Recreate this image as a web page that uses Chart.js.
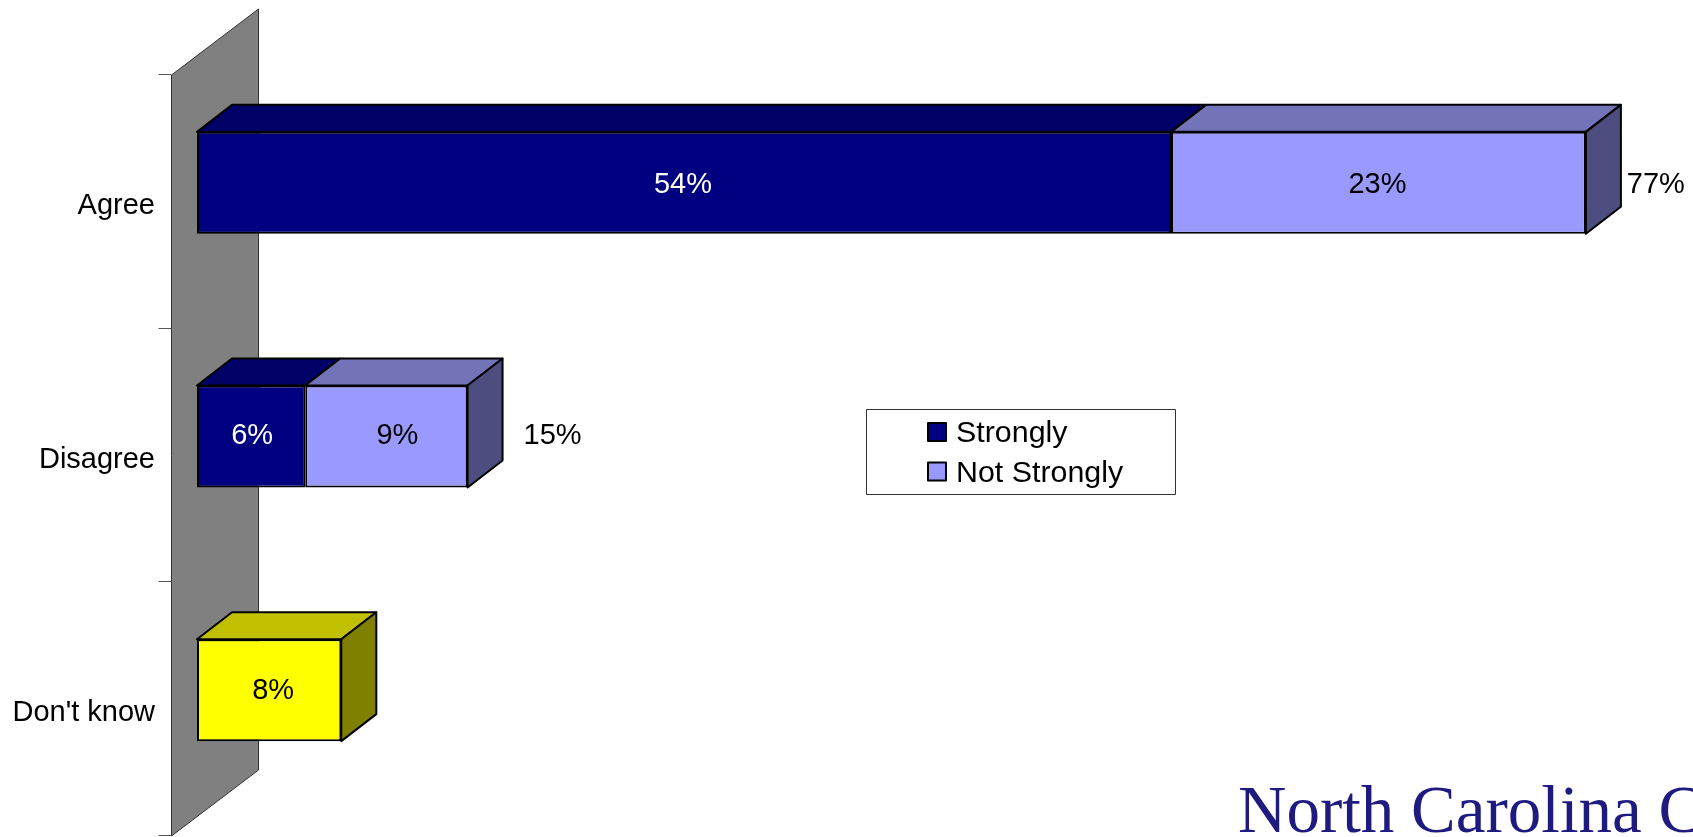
<!DOCTYPE html>
<html>
<head>
<meta charset="utf-8">
<title>Agree / Disagree</title>
<script src="https://cdn.jsdelivr.net/npm/chart.js@4/dist/chart.umd.min.js"></script>
<style>
  html, body { margin: 0; padding: 0; background: #fff; overflow: hidden; }
  canvas { display: block; }
</style>
</head>
<body>
<canvas id="chart" width="1693" height="837"></canvas>
<script>
const categories = ["Agree", "Disagree", "Don't know"];

const stronglyValues = [54, 6, null];
const notStronglyValues = [23, 9, null];
const dontKnowValues = [null, null, 8];

const logoText = "North Carolina C";

const FONT = "'Liberation Sans', Arial, sans-serif";
const WALL = { left: 25.5, dx: 87, dy: 66, shift: 19 };
const DEPTH = { x: 35, y: 27 };

const faces = [
  { front: "#000080", top: "#000066", side: "#000040", text: "#fff", nudge: [-1, 1, 0] },
  { front: "#9999ff", top: "#7373b9", side: "#4d4d80", text: "#000", nudge: [-1, 11, 0] },
  { front: "#ffff00", top: "#c0c000", side: "#808000", text: "#000", nudge: [0, 0, 4] },
];
const totalGap = [70, 85];
const labelDrop = [2, -1, 1];

const poly = (ctx, pts, fill, stroke, width) => {
  ctx.beginPath();
  pts.forEach((p, i) => (i ? ctx.lineTo(p[0], p[1]) : ctx.moveTo(p[0], p[1])));
  ctx.closePath();
  ctx.fillStyle = fill;
  ctx.fill();
  ctx.strokeStyle = stroke;
  ctx.lineWidth = width;
  ctx.lineJoin = "round";
  ctx.stroke();
};

const box3d = {
  id: "box3d",
  beforeDatasetsDraw(chart) {
    const { ctx, chartArea, scales } = chart;
    const x0 = chartArea.left - WALL.left;
    const top = chartArea.top + WALL.shift;
    const bottom = chartArea.bottom + WALL.shift;
    poly(ctx, [
      [x0, top],
      [x0 + WALL.dx, top - WALL.dy],
      [x0 + WALL.dx, bottom - WALL.dy],
      [x0, bottom],
    ], "#808080", "#333", 1);

    // tick marks sit between the categories
    const band = (scales.y.bottom - scales.y.top) / categories.length;
    ctx.strokeStyle = "#555";
    ctx.lineWidth = 1;
    for (let i = 0; i <= categories.length; i++) {
      const y = Math.round(top + band * i) - 0.5;
      ctx.beginPath();
      ctx.moveTo(x0 - 13, y);
      ctx.lineTo(x0, y);
      ctx.stroke();
    }

    // top and side faces of the boxes
    chart.data.datasets.forEach((ds, d) => {
      chart.getDatasetMeta(d).data.forEach((bar, i) => {
        if (ds.data[i] == null) return;
        const t = bar.y - bar.height / 2;
        const b = bar.y + bar.height / 2;
        poly(ctx, [
          [bar.base, t],
          [bar.base + DEPTH.x, t - DEPTH.y],
          [bar.x + DEPTH.x, t - DEPTH.y],
          [bar.x, t],
        ], faces[d].top, "#000", 2);
        if (d === 0) return; // the first series always has another one on its end
        poly(ctx, [
          [bar.x, t],
          [bar.x + DEPTH.x, t - DEPTH.y],
          [bar.x + DEPTH.x, b - DEPTH.y],
          [bar.x, b],
        ], faces[d].side, "#000", 2);
      });
    });
  },
  afterDatasetsDraw(chart) {
    const { ctx } = chart;
    ctx.save();
    ctx.textAlign = "center";
    ctx.textBaseline = "middle";
    ctx.font = "29px " + FONT;
    chart.data.datasets.forEach((ds, d) => {
      chart.getDatasetMeta(d).data.forEach((bar, i) => {
        if (ds.data[i] == null) return;
        const y = bar.y + labelDrop[i];
        ctx.fillStyle = faces[d].text;
        ctx.fillText(ds.data[i] + "%", (bar.x + bar.base) / 2 + faces[d].nudge[i], y);
        if (d === 1) {
          ctx.fillStyle = "#000";
          ctx.fillText(stronglyValues[i] + notStronglyValues[i] + "%", bar.x + totalGap[i], y);
        }
      });
    });

    // legend box, only the two split series are listed
    ctx.textAlign = "left";
    ctx.font = "30.4px " + FONT;
    poly(ctx, [[866.5, 409.5], [1175.5, 409.5], [1175.5, 494.5], [866.5, 494.5]], "#fff", "#333", 1);
    [0, 1].forEach((d) => {
      const y = 423 + d * 39.5;
      ctx.fillStyle = faces[d].front;
      ctx.strokeStyle = "#000";
      ctx.lineWidth = 2;
      ctx.fillRect(928, y, 18, 18);
      ctx.strokeRect(928, y, 18, 18);
      ctx.fillStyle = "#000";
      ctx.fillText(chart.data.datasets[d].label, 956, y + 11);
    });

    ctx.fillStyle = "#1f1a80";
    ctx.textBaseline = "alphabetic";
    ctx.font = "67px 'Liberation Serif', 'Times New Roman', serif";
    ctx.fillText(logoText, 1238, 832);
    ctx.restore();
  },
};

const makeDataset = (label, data, face) => ({
  label,
  data,
  backgroundColor: face.front,
  borderColor: "#000",
  borderWidth: 2,
  borderSkipped: false,
  barPercentage: 0.402,
  categoryPercentage: 1,
});

new Chart(document.getElementById("chart"), {
  type: "bar",
  data: {
    labels: categories,
    datasets: [
      makeDataset("Strongly", stronglyValues, faces[0]),
      makeDataset("Not Strongly", notStronglyValues, faces[1]),
      makeDataset("Don't know", dontKnowValues, faces[2]),
    ],
  },
  options: {
    indexAxis: "y",
    responsive: false,
    animation: false,
    layout: { padding: { top: 56, bottom: 20, left: 0, right: 53 } },
    scales: {
      x: { stacked: true, display: false, min: 0, max: 80 },
      y: {
        stacked: true,
        // the long tick only pushes the labels left, it is not painted
        grid: { drawOnChartArea: false, drawTicks: true, tickLength: 42, tickColor: "transparent" },
        border: { display: false },
        afterFit(scale) {
          scale.width = 197;
        },
        ticks: {
          color: "#000",
          font: { family: FONT, size: 29 },
          padding: 0,
          labelOffset: 23,
        },
      },
    },
    plugins: {
      legend: { display: false },
      tooltip: { enabled: false },
    },
  },
  plugins: [box3d],
});
</script>
</body>
</html>
